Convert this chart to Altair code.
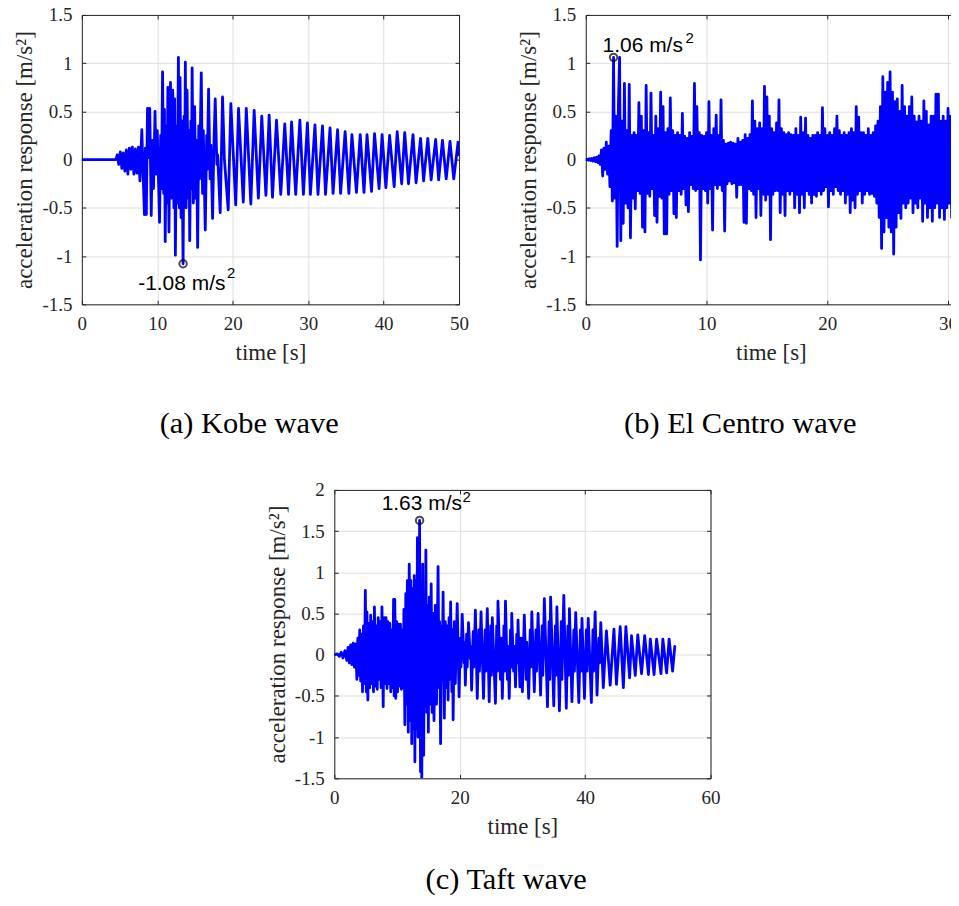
import altair as alt
import pandas as pd

SERIF = "Liberation Serif"
SANS = "Liberation Sans"
BLUE = "#0000ff"
AX = "#262626"
GRID = "#dedede"

# ---------------- (a) Kobe wave: extremes ----------------
kobe_t = [0, 4.5, 4.7, 4.9, 5.1, 5.3, 5.5, 5.7, 5.9, 6.1, 6.3, 6.5, 6.7, 6.9, 7.1, 7.3, 7.5, 7.7, 7.95, 8.1,
          8.3, 8.42, 8.55, 8.7, 8.85, 9.0, 9.2, 9.35, 9.5, 9.7, 9.85, 10.0, 10.3, 10.45, 10.55, 10.7, 10.85,
          10.95, 11.05, 11.2, 11.3, 11.4, 11.55, 11.75, 11.9, 12.05, 12.2, 12.3, 12.4, 12.55, 12.65, 12.8,
          12.92, 13.02, 13.15, 13.25, 13.42, 13.55, 13.62, 13.72, 13.82, 13.95, 14.1, 14.2, 14.3, 14.45,
          14.52, 14.62, 14.78, 14.95, 15.1, 15.2, 15.35, 15.5, 15.6, 15.83, 16.0, 16.1, 16.36, 16.55, 16.62,
          16.8, 17.0, 17.1, 17.33, 17.5, 17.68, 17.9, 18.0, 18.34, 18.65, 18.9, 19.4, 19.75, 20.4, 20.77,
          21.4, 21.8, 22.4, 22.84, 23.4, 23.85, 24.4, 24.83, 25.27, 25.8, 26.37, 26.9, 27.4, 27.8, 28.35,
          28.9, 29.37, 29.9, 30.3, 30.9, 31.3, 31.9, 32.3, 32.9, 33.3, 33.9, 34.3, 34.9, 35.4, 35.8, 36.4,
          36.9, 37.4, 37.8, 38.4, 38.8, 39.4, 39.8, 40.3, 40.8, 41.4, 41.8, 42.4, 42.8, 43.3, 43.9, 44.3,
          44.9, 45.3, 45.86, 46.3, 46.9, 47.3, 47.8, 48.3, 48.8, 49.3, 49.87, 50.0]
kobe_a = [0, 0, 0.05, -0.05, 0.08, -0.09, 0.07, -0.12, 0.10, -0.15, 0.12, -0.10, 0.13, -0.15, 0.11, -0.14,
          0.13, -0.22, 0.31, -0.10, -0.57, 0.12, -0.57, 0.53, 0.02, 0.53, -0.58, 0.20, -0.30, 0.50, -0.15,
          0.30, -0.65, 0.25, -0.30, 0.91, -0.35, 0.52, -0.85, 0.35, -0.45, 0.75, -0.75, 0.80, -0.40, 0.72,
          -0.50, 0.63, -0.99, 0.35, -0.45, 1.06, -0.50, 0.85, -0.60, 0.40, -1.08, 0.45, -0.30, 1.01, -0.50,
          0.72, -0.40, 0.30, -0.84, 0.40, -0.30, 0.95, -0.45, 0.55, -0.40, 0.20, -0.91, 0.35, -0.20, 0.90,
          -0.35, 0.30, -0.73, 0.25, -0.10, 0.73, -0.20, 0.15, -0.61, 0.15, 0.63, -0.05, 0.05, -0.55, 0.65,
          0.00, -0.52, 0.58, -0.47, 0.53, -0.44, 0.53, -0.46, 0.51, -0.40, 0.45, -0.37, 0.46, -0.39, 0.41,
          -0.36, 0.37, -0.36, 0.39, -0.36, 0.41, -0.36, 0.38, -0.36, 0.36, -0.36, 0.35, -0.36, 0.33, -0.35,
          0.31, -0.35, 0.29, -0.35, 0.26, -0.34, 0.26, -0.34, 0.26, -0.33, 0.27, -0.30, 0.26, -0.29, 0.25,
          -0.28, 0.29, -0.25, 0.28, -0.25, 0.26, -0.24, 0.22, -0.22, 0.22, -0.21, 0.21, -0.21, 0.20, -0.20,
          0.19, -0.20, 0.18, 0.05]

# ---------------- (b) El Centro wave: one reading every 0.1 s (visible part, 0-30.7 s) ----------------
elcentro_dt = 0.1
elcentro_a = [
    0.0, 0.005, -0.005, 0.01, -0.01, 0.012, -0.015, 0.02, -0.02, 0.025,
    -0.03, 0.04, -0.05, 0.10, -0.17, 0.12, -0.10, 0.18, -0.15, 0.14,
    -0.28, 0.30, -0.43, 1.06, -0.40, 0.45, -0.90, 0.55, 1.06, -0.84,
    0.40, -0.66, 0.79, -0.45, 0.30, -0.50, 0.78, -0.81, 0.25, -0.40,
    0.28, -0.51, 0.25, -0.32, 0.59, -0.35, 0.45, -0.70, 0.30, -0.75,
    0.77, -0.35, 0.28, -0.38, 0.69, -0.30, 0.25, -0.58, 0.45, -0.65,
    0.32, -0.38, 0.70, -0.40, 0.55, -0.77, 0.28, -0.77, 0.32, -0.36,
    0.64, -0.32, 0.30, -0.56, 0.25, -0.60, 0.28, -0.32, 0.25, -0.36,
    0.48, -0.30, 0.24, -0.47, 0.22, -0.54, 0.28, -0.26, 0.24, -0.30,
    0.79, -0.32, 0.55, -0.30, 0.28, -1.04, 0.25, -0.30, 0.24, -0.32,
    0.28, -0.45, 0.60, -0.30, 0.25, -0.73, 0.32, -0.26, 0.46, -0.30,
    0.25, -0.26, 0.62, -0.32, 0.20, -0.74, 0.16, -0.25, 0.17, -0.22,
    0.18, -0.25, 0.17, -0.24, 0.16, -0.39, 0.22, -0.26, 0.18, -0.26,
    0.20, -0.65, 0.26, -0.66, 0.22, -0.30, 0.26, -0.32, 0.61, -0.36,
    0.40, -0.60, 0.32, -0.30, 0.38, -0.58, 0.32, -0.36, 0.76, -0.42,
    0.65, -0.36, 0.45, -0.83, 0.32, -0.36, 0.28, -0.32, 0.38, -0.32,
    0.62, -0.55, 0.32, -0.36, 0.28, -0.58, 0.26, -0.32, 0.28, -0.36,
    0.26, -0.32, 0.25, -0.50, 0.32, -0.36, 0.25, -0.55, 0.44, -0.36,
    0.28, -0.50, 0.43, -0.32, 0.25, -0.36, 0.22, -0.45, 0.25, -0.36,
    0.25, -0.38, 0.28, -0.32, 0.25, -0.36, 0.54, -0.32, 0.32, -0.28,
    0.25, -0.49, 0.28, -0.32, 0.25, -0.36, 0.32, -0.28, 0.45, -0.32,
    0.30, -0.36, 0.25, -0.32, 0.28, -0.45, 0.25, -0.36, 0.28, -0.55,
    0.32, -0.42, 0.28, -0.50, 0.55, -0.36, 0.44, -0.32, 0.28, -0.45,
    0.28, -0.36, 0.25, -0.32, 0.32, -0.36, 0.25, -0.35, 0.28, -0.38,
    0.35, -0.45, 0.40, -0.60, 0.55, -0.92, 0.86, -0.75, 0.70, -0.60,
    0.80, -0.70, 0.91, -0.75, 0.70, -0.98, 0.60, -0.70, 0.63, -0.55,
    0.50, -0.61, 0.77, -0.45, 0.55, -0.50, 0.45, -0.45, 0.55, -0.40,
    0.65, -0.55, 0.45, -0.45, 0.39, -0.50, 0.45, -0.40, 0.40, -0.64,
    0.61, -0.45, 0.50, -0.60, 0.36, -0.50, 0.45, -0.64, 0.45, -0.50,
    0.68, -0.45, 0.68, -0.60, 0.40, -0.50, 0.45, -0.62, 0.40, -0.50,
    0.53, -0.45, 0.45, -0.60, 0.42, -0.50, 0.40, -0.45,
]
elcentro_t = [round(i * elcentro_dt, 2) for i in range(len(elcentro_a))]

# ---------------- (c) Taft wave: extremes ----------------
taft_t = [0, 0.5, 0.8, 1.1, 1.4, 1.7, 2.0, 2.2, 2.4, 2.6, 2.8, 3.0, 3.2, 3.4, 3.6, 3.75, 3.9, 4.05, 4.2,
          4.35, 4.5, 4.65, 4.8, 4.95, 5.1, 5.2, 5.35, 5.5, 5.65, 5.8, 5.95, 6.1, 6.25, 6.4, 6.55, 6.7, 6.85,
          7.0, 7.15, 7.3, 7.45, 7.6, 7.8, 7.95, 8.1, 8.25, 8.4, 8.55, 8.7, 8.85, 9.0, 9.15, 9.3, 9.45, 9.55,
          9.65, 9.8, 9.95, 10.1, 10.25, 10.4, 10.55, 10.7, 10.85, 11.0, 11.1, 11.25, 11.4, 11.5, 11.65, 11.8,
          11.95, 12.1, 12.2, 12.35, 12.45, 12.6, 12.75, 12.85, 13.0, 13.15, 13.25, 13.35, 13.47, 13.52, 13.6,
          13.75, 13.85, 13.95, 14.1, 14.25, 14.4, 14.5, 14.6, 14.75, 14.9, 15.0, 15.15, 15.3, 15.45, 15.6,
          15.75, 15.9, 16.1, 16.3, 16.55, 16.7, 16.8, 16.95, 17.1, 17.2, 17.35, 17.55, 17.7, 17.85, 18.0,
          18.15, 18.3, 18.4, 18.55, 18.75, 18.85, 18.95, 19.15, 19.3, 19.6, 19.9,
          20.1, 20.2, 20.4, 20.7, 20.75, 20.9, 21.1, 21.2, 21.4, 21.7, 21.75, 21.9, 22.15, 22.25, 22.5, 22.8,
          23.05, 23.15, 23.4, 23.8, 24.05, 24.15, 24.4, 24.7, 24.95, 25.05, 25.2, 25.7, 25.9, 26.0, 26.1,
          26.5, 26.6, 26.8, 27.05, 27.15, 27.3, 27.6, 27.7, 27.9, 28.1, 28.2, 28.3, 28.6, 28.7, 28.9, 29.1,
          29.2, 29.3, 29.6, 29.8, 30.0, 30.3, 30.6, 30.7, 31.0, 31.25, 31.35, 31.5, 31.9, 32.15, 32.25, 32.5,
          32.9, 33.15, 33.25, 33.5, 34.0, 34.25, 34.35, 34.5, 35.0, 35.25, 35.35, 35.5, 35.9, 36.2, 36.3,
          36.6, 37.0, 37.25, 37.35, 37.5, 37.9, 38.2, 38.3, 38.5, 39.0, 39.25, 39.35, 39.5, 39.9, 40.2, 40.3,
          40.5, 41.0, 41.25, 41.35, 41.6, 41.9, 42.2, 42.3, 42.5, 42.9, 43.4, 44.0, 44.6, 45.0, 45.6, 46.1,
          46.5, 47.1, 47.4, 48.0, 48.4, 49.0, 49.5, 50.1, 50.4, 51.0, 51.4, 52.1, 52.4, 53.0, 53.4, 53.95,
          54.3]
taft_a = [0, 0.01, -0.02, 0.03, -0.04, 0.05, -0.07, 0.09, -0.10, 0.12, -0.12, 0.14, -0.15, 0.13, -0.30,
          0.20, -0.25, 0.30, -0.32, 0.25, -0.45, 0.35, -0.35, 0.78, -0.45, 0.52, -0.55, 0.38, -0.40, 0.48,
          -0.35, 0.40, -0.45, 0.58, -0.38, 0.35, -0.42, 0.45, -0.30, 0.40, -0.40, 0.58, -0.63, 0.45, -0.35,
          0.45, -0.41, 0.40, -0.35, 0.38, -0.45, 0.30, -0.40, 0.67, -0.50, 0.67, -0.53, 0.40, -0.45, 0.37,
          -0.38, 0.37, -0.42, 0.30, -0.40, 0.55, -0.85, 0.74, -0.60, 0.90, -0.94, 1.10, -0.80, 0.90, -1.08,
          0.80, -0.90, 0.96, -1.30, 0.90, -0.90, 1.42, -1.00, 0.60, -0.30, 1.63, -1.42, 0.50, -1.55, 1.10,
          -1.22, 0.70, -0.60, 1.27, -0.70, 0.60, -0.94, 0.70, -0.60, 0.86, -0.70, 0.50, -0.80, 0.60, -0.60,
          1.07, -0.40, 0.40, -1.08, 0.35, -0.30, 0.76, -0.77, 0.40, -0.40, 0.35, -0.55, 0.45, -0.30, 0.64,
          -0.45, 0.30, -0.79, 0.40, -0.35, 0.62, -0.51,
          0.20, -0.15, 0.49, -0.10, 0.15, -0.37, 0.25, -0.15, 0.39, -0.05, 0.10, -0.43, 0.28, -0.15, 0.54,
          -0.53, 0.30, -0.20, 0.52, -0.53, 0.30, -0.20, 0.56, -0.57, 0.35, -0.25, 0.45, -0.59, 0.35, -0.20,
          0.65, -0.30, 0.20, -0.53, 0.35, -0.20, 0.65, -0.30, 0.10, -0.53, 0.30, -0.15, 0.50, -0.20, 0.10,
          -0.39, 0.25, -0.10, 0.42, -0.39, 0.20, -0.45, 0.48, -0.30, 0.15, -0.53, 0.30, -0.15, 0.52, -0.45,
          0.30, -0.20, 0.50, -0.49, 0.35, -0.25, 0.68, -0.63, 0.40, -0.30, 0.70, -0.62, 0.35, -0.25, 0.58,
          -0.68, 0.40, -0.30, 0.72, -0.65, 0.35, -0.25, 0.56, -0.57, 0.30, -0.20, 0.51, -0.58, 0.30, -0.20,
          0.44, -0.53, 0.30, -0.20, 0.44, -0.58, 0.30, -0.20, 0.52, -0.49, 0.20, -0.10, 0.39, -0.40, 0.29,
          -0.37, 0.31, -0.36, 0.34, -0.40, 0.34, -0.28, 0.23, -0.25, 0.24, -0.23, 0.23, -0.24, 0.19, -0.24,
          0.19, -0.23, 0.19, -0.22, 0.19, -0.20, 0.10]

# ---------------- axes / annotations ----------------
kobe_xticks = [0, 10, 20, 30, 40, 50]
elcentro_xticks = [0, 10, 20, 30]
taft_xticks = [0, 20, 40, 60]
yticks_ab = [-1.5, -1, -0.5, 0, 0.5, 1, 1.5]
yticks_c = [-1.5, -1, -0.5, 0, 0.5, 1, 1.5, 2]

LABEL_EXPR = "datum.value < 0 ? '-' + format(-datum.value, '') : format(datum.value, '')"
YTITLE = "acceleration response [m/s²]"


def make_panel(t, a, xdom, xticks, ydom, yticks, w, h, pk_t, pk_a, pk_label, tdx, tdy,
               sdx, sdy, caption, cap_dx, cap_offset, right_border=True):
    df = pd.DataFrame({"t": t, "a": a})
    edge = pd.DataFrame({"t": xdom, "a": ydom})
    pk = pd.DataFrame({"t": [pk_t], "a": [pk_a], "label": [pk_label], "sup": ["2"]})
    xs = alt.Scale(domain=xdom, nice=False, zero=False)
    ys = alt.Scale(domain=ydom, nice=False, zero=False)

    line = alt.Chart(df).mark_line(
        color=BLUE, strokeWidth=2.8, clip=True, strokeJoin="round", strokeCap="round"
    ).encode(
        x=alt.X("t:Q", scale=xs, axis=alt.Axis(
            values=xticks, labelExpr=LABEL_EXPR, ticks=False, domain=True, domainColor=AX,
            domainWidth=1, grid=True, gridColor=GRID, gridWidth=1, labelFont=SERIF,
            labelFontSize=19, labelColor=AX, labelPadding=10, labelFlush=False,
            labelOverlap=False, title="time [s]", titleFont=SERIF, titleFontSize=23,
            titleFontWeight="normal", titleColor=AX, titlePadding=8)),
        y=alt.Y("a:Q", scale=ys, axis=alt.Axis(
            values=yticks, labelExpr=LABEL_EXPR, ticks=False, domain=True, domainColor=AX,
            domainWidth=1, grid=True, gridColor=GRID, gridWidth=1, labelFont=SERIF,
            labelFontSize=19, labelColor=AX, labelPadding=10, labelFlush=False,
            labelOverlap=False, title=YTITLE, titleFont=SERIF, titleFontSize=23,
            titleFontWeight="normal", titleColor=AX, titlePadding=5)),
    )

    # top / right border of the box
    frame_y = alt.Y("a:Q", scale=ys, axis=alt.Axis(
        orient="right", labels=False, ticks=False, grid=False, domain=True,
        domainColor=AX, domainWidth=1, minExtent=0, title=None)) if right_border else \
        alt.Y("a:Q", scale=ys, axis=None)
    frame = alt.Chart(edge).mark_point(opacity=0).encode(
        x=alt.X("t:Q", scale=xs, axis=alt.Axis(
            orient="top", labels=False, ticks=False, grid=False, domain=True,
            domainColor=AX, domainWidth=1, minExtent=0, title=None)),
        y=frame_y,
    )

    def tick_layer(xo, yo):
        return alt.Chart(edge).mark_point(opacity=0).encode(
            x=alt.X("t:Q", scale=xs, axis=alt.Axis(
                orient=xo, values=xticks, labels=False, domain=False, grid=False, ticks=True,
                tickSize=4, tickColor=AX, tickWidth=1, offset=-4, minExtent=0, title=None)),
            y=alt.Y("a:Q", scale=ys, axis=alt.Axis(
                orient=yo, values=yticks, labels=False, domain=False, grid=False, ticks=True,
                tickSize=4, tickColor=AX, tickWidth=1, offset=-4, minExtent=0, title=None)),
        )

    enc = dict(x=alt.X("t:Q", scale=xs, axis=None), y=alt.Y("a:Q", scale=ys, axis=None))
    marker = alt.Chart(pk).mark_point(
        shape="circle", size=55, filled=False, color="black", strokeWidth=2
    ).encode(**enc)
    text = alt.Chart(pk).mark_text(
        font=SANS, fontSize=21, align="left", baseline="middle", dx=tdx, dy=tdy, color="black"
    ).encode(text="label:N", **enc)
    sup = alt.Chart(pk).mark_text(
        font=SANS, fontSize=15, align="left", baseline="middle", dx=sdx, dy=sdy, color="black"
    ).encode(text="sup:N", **enc)

    return alt.layer(
        line, frame, tick_layer("top", "right"), tick_layer("bottom", "left"), marker, text, sup
    ).resolve_axis(x="independent", y="independent").properties(
        width=w, height=h,
        title=alt.TitleParams(caption, orient="bottom", anchor="middle", frame="bounds",
                              font=SERIF, fontSize=30.5, fontWeight="normal", color="black",
                              offset=cap_offset, dx=cap_dx),
    )


panel_a = make_panel(kobe_t, kobe_a, [0, 50], kobe_xticks, [-1.5, 1.5], yticks_ab, 378, 290,
                     13.42, -1.08, "-1.08 m/s", -45, 20, 44, 9, "(a) Kobe wave", 8, 45)
panel_b = make_panel(elcentro_t, elcentro_a, [0, 30.66], elcentro_xticks, [-1.5, 1.5], yticks_ab,
                     371, 290, 2.3, 1.06, "1.06 m/s", -11, -11, 72, -19, "(b) El Centro wave", 2, 45,
                     right_border=False)
panel_c = make_panel(taft_t, taft_a, [0, 60], taft_xticks, [-1.5, 2], yticks_c, 377, 289,
                     13.6, 1.63, "1.63 m/s", -38, -16, 43, -23, "(c) Taft wave", 13, 27)

spacer = alt.Chart(pd.DataFrame({"v": [0]})).mark_point(opacity=0).encode(
    x=alt.value(0), y=alt.value(0)
).properties(width=183, height=1)

top_row = alt.hconcat(panel_a, panel_b, spacing=48)
bottom_row = alt.hconcat(spacer, panel_c, spacing=0)

chart = alt.vconcat(top_row, bottom_row, spacing=40).properties(
    padding={"left": 5, "top": -4, "right": -9, "bottom": 0}
).configure_view(stroke="transparent")

chart.save("out.html", embed_options={"renderer": "svg", "actions": False})
